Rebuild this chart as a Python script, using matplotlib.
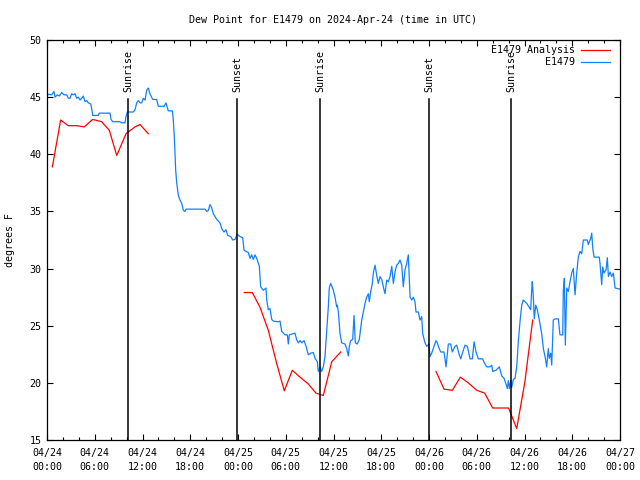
import numpy as np
import pandas as pd
import matplotlib
matplotlib.use("Agg")
import matplotlib.pyplot as plt
import matplotlib.dates as mdates
from matplotlib.transforms import blended_transform_factory

# hours after 2024-04-24 00:00 UTC, dew point in degrees F
analysis_hours = [0.67, 1.72, 2.68, 3.73, 4.69, 5.74, 6.87, 7.83, 8.76, 9.93, 11.06, 11.69, 12.73,
                  np.nan,
                  24.79, 25.80, 26.77, 27.81, 28.86, 29.82, 30.82, 31.79, 32.84, 33.80, 34.72, 35.78, 36.91,
                  np.nan,
                  48.88, 49.89, 50.93, 51.94, 52.94, 54.0, 55.0, 56.0, 57.0, 58.0, 59.02, 60.03, 61.03]
analysis_vals = [38.9, 43.0, 42.5, 42.5, 42.4, 43.05, 42.85, 42.1, 39.9, 41.8, 42.4, 42.6, 41.8,
                 np.nan,
                 27.9, 27.9, 26.6, 24.6, 21.7, 19.3, 21.1, 20.5, 19.9, 19.1, 18.9, 21.85, 22.7,
                 np.nan,
                 21.0, 19.45, 19.35, 20.5, 20.0, 19.35, 19.1, 17.8, 17.8, 17.8, 16.0, 20.0, 25.5]

obs_hours = [0.0, 0.16, 0.59, 0.88, 1.01, 1.29, 1.55, 1.85, 2.14, 2.48, 2.68, 2.89, 3.10, 3.30, 3.52,
             3.73, 3.93, 4.15, 4.36, 4.56, 4.78, 4.99, 5.19, 5.49, 5.62, 5.74, 6.45, 6.57, 7.92, 8.04,
             8.26, 9.17, 9.39, 9.80, 9.93, 10.09, 10.84, 11.06, 11.27, 11.47, 11.69, 11.90, 12.10, 12.32,
             12.53, 12.73, 12.94, 13.28, 13.78, 13.99, 14.70, 14.95, 15.24, 15.75, 15.87, 16.00, 16.17,
             16.30, 16.50, 16.71, 16.93, 17.13, 17.34, 17.47, 19.85, 20.07, 20.27, 20.48, 20.70, 20.90,
             21.33, 21.74, 21.95, 22.24, 22.49, 22.71, 23.08, 23.34, 23.62, 23.91, 24.25, 24.59, 24.76,
             25.30, 25.51, 25.72, 25.92, 26.14, 26.35, 26.68, 26.85, 27.18, 27.52, 27.61, 27.81, 28.02,
             28.24, 28.44, 29.07, 29.28, 29.49, 29.91, 30.20, 30.32, 30.45, 31.16, 31.38, 31.58, 31.79,
             32.01, 32.30, 32.55, 32.84, 33.14, 33.46, 33.68, 33.97, 34.09, 34.31, 34.52, 34.72, 34.93,
             35.15, 35.35, 35.47, 35.65, 35.98, 36.19, 36.40, 36.48, 36.61, 36.82, 37.03, 37.45, 37.66,
             37.86, 37.99, 38.16, 38.41, 38.58, 38.74, 38.99, 39.24, 39.55, 39.75, 39.96, 40.17, 40.38,
             40.50, 40.68, 40.88, 41.00, 41.22, 41.43, 41.63, 41.84, 42.06, 42.26, 42.47, 42.69, 42.89,
             43.10, 43.32, 43.52, 43.73, 43.94, 44.15, 44.36, 44.57, 44.77, 44.99, 45.20, 45.40, 45.62,
             45.83, 46.03, 46.24, 46.37, 46.66, 46.87, 47.08, 47.21, 47.50, 47.71, 48.00, 48.13, 48.34,
             48.54, 48.88, 49.05, 49.17, 49.47, 49.89, 50.14, 50.43, 50.73, 50.93, 51.27, 51.48, 51.81,
             51.99, 52.24, 52.53, 52.82, 53.16, 53.45, 53.66, 53.91, 54.20, 54.75, 54.91, 55.25, 55.67,
             55.88, 56.01, 56.42, 56.84, 57.14, 57.43, 57.68, 57.84, 57.97, 58.10, 58.27, 58.39, 58.60,
             58.81, 59.02, 59.22, 59.44, 59.65, 59.85, 60.07, 60.28, 60.61, 60.78, 60.90, 60.98, 61.11,
             61.23, 61.41, 61.61, 61.86, 62.16, 62.37, 62.58, 62.79, 62.99, 63.12, 63.30, 63.42, 63.62,
             63.84, 64.25, 64.46, 64.80, 64.88, 65.01, 65.13, 65.31, 65.51, 65.72, 65.93, 66.14, 66.35,
             66.56, 66.76, 66.98, 67.19, 67.39, 67.89, 68.02, 68.32, 68.45, 68.57, 68.74, 69.40, 69.49,
             69.70, 69.83, 69.99, 70.25, 70.41, 70.54, 70.75, 70.96, 71.17, 71.38, 72.0]
obs_vals = [45.1, 45.25, 45.2, 45.5, 45.0, 45.2, 45.1, 45.4, 45.2, 45.2, 44.9, 44.9, 45.3, 45.2, 45.3,
            44.9, 45.0, 44.75, 44.9, 45.1, 44.6, 44.7, 44.5, 44.4, 44.0, 43.4, 43.4, 43.6, 43.6, 43.05,
            42.85, 42.85, 42.75, 42.75, 43.3, 43.7, 43.7, 43.9, 44.5, 44.7, 44.5, 44.5, 44.9, 44.75,
            45.6, 45.8, 45.3, 44.8, 44.8, 44.2, 44.2, 44.5, 43.8, 43.8, 43.0, 41.5, 38.6,
            37.5, 36.4, 36.0, 35.7, 35.1, 35.0, 35.2, 35.2, 35.0, 35.1, 35.6, 35.3, 34.8,
            34.3, 34.0, 33.5, 33.2, 33.4, 32.9, 32.8, 32.5, 32.55, 33.0, 32.8, 32.7, 31.6,
            31.4, 30.9, 31.2, 30.8, 31.2, 30.9, 30.2, 28.4, 28.1, 28.3, 27.25, 26.4, 26.5,
            25.55, 25.4, 25.35, 25.4, 24.5, 24.2, 24.2, 23.4, 24.2, 24.35, 23.75, 23.5, 23.7,
            23.5, 23.7, 23.2, 22.45, 22.6, 22.65, 22.15, 21.85, 21.0, 21.4, 21.0, 21.4, 22.3,
            24.6, 26.65, 28.3, 28.7, 28.1, 27.5, 26.65, 26.8, 26.2, 24.3, 23.5, 23.4, 23.0,
            22.35, 23.2, 23.7, 23.8, 25.9, 23.5, 23.4, 23.8, 25.5, 26.2, 26.95, 27.5, 27.8,
            27.1, 28.0, 28.7, 29.6, 30.3, 29.4, 28.7, 29.3, 29.05, 28.4, 27.8, 29.0, 28.85,
            29.3, 30.2, 28.7, 29.7, 30.3, 30.45, 30.75, 30.3, 28.4, 29.9, 30.45, 31.2, 27.5,
            27.25, 27.5, 27.1, 26.2, 26.2, 25.5, 25.8, 24.3, 23.5, 23.2, 23.4, 22.3, 22.6,
            23.0, 23.7, 23.5, 23.2, 22.7, 22.7, 21.4, 23.4, 23.4, 22.7, 23.2, 23.3, 22.45,
            22.1, 22.7, 23.3, 23.2, 22.1, 22.1, 23.6, 22.7, 22.1, 22.1, 21.8, 21.4, 21.4,
            21.55, 21.0, 21.1, 21.4, 20.6, 20.4, 19.9, 19.5, 20.2, 19.5, 20.2, 19.6, 20.3,
            20.4, 21.4, 23.6, 25.4, 26.8, 27.25, 27.1, 26.95, 26.6, 26.4, 28.1, 28.85, 27.5,
            25.6, 26.8, 26.4, 25.5, 24.3, 23.0, 22.3, 21.4, 23.0, 22.15, 22.6, 21.55, 25.5,
            25.6, 25.6, 24.2, 24.2, 28.1, 29.15, 23.3, 28.3, 28.0, 28.85, 29.6, 30.0, 27.7,
            29.6, 31.0, 31.5, 31.3, 32.5, 32.5, 32.1, 32.65, 33.1, 31.8, 31.0, 31.0, 30.45,
            28.6, 30.15, 29.6, 29.9, 30.95, 29.3, 29.7, 29.3, 29.6, 28.3, 28.2]

sun_hours = [10.2, 23.93, 34.35, 48.03, 58.35]
sun_labels = ["Sunrise", "Sunset", "Sunrise", "Sunset", "Sunrise"]

start = pd.Timestamp("2024-04-24 00:00").to_pydatetime()
t0 = mdates.date2num(start)


def to_num(hours):
    return t0 + np.asarray(hours, dtype=float) / 24.0


plt.rcParams["font.family"] = "DejaVu Sans Mono"
plt.rcParams["font.size"] = 7.2

fig = plt.figure(figsize=(6.4, 4.8), dpi=100)
ax = fig.add_axes([47 / 640, 40 / 480, 573 / 640, 400 / 480])

red = "#ff0000"
blue = "#1080ff"
ax.plot(to_num(analysis_hours), analysis_vals, color=red, lw=0.9)
ax.plot(to_num(obs_hours), obs_vals, color=blue, lw=0.9)

trans = blended_transform_factory(ax.transData, ax.transAxes)
for h, lab in zip(sun_hours, sun_labels):
    x = to_num(h)
    ax.plot([x, x], [0, 0.852], color="black", lw=1.1, transform=trans)
    ax.text(x, 0.87, lab, rotation=90, ha="center", va="bottom", transform=trans)

ax.set_xlim(t0, t0 + 3)
ax.set_ylim(15, 50)
ax.set_yticks(np.arange(15, 51, 5))
ax.xaxis.set_major_locator(mdates.HourLocator(byhour=range(0, 24, 6)))
ax.xaxis.set_minor_locator(mdates.HourLocator(byhour=range(0, 24, 2)))
ax.xaxis.set_major_formatter(mdates.DateFormatter("%m/%d\n%H:%M"))
for lbl in ax.get_xticklabels():
    lbl.set_linespacing(1.45)
ax.tick_params(which="both", direction="in", top=True, right=True, color="black")
ax.tick_params(which="major", length=4, width=0.8)
ax.tick_params(which="minor", length=2, width=0.8)
ax.tick_params(axis="x", which="major", pad=6)
ax.tick_params(axis="y", which="major", pad=4)
for sp in ax.spines.values():
    sp.set_linewidth(0.9)

# legend drawn like gnuplot: right-aligned text, sample line on the right
for yy, lab, col in [(0.975, "E1479 Analysis", red), (0.945, "E1479", blue)]:
    ax.text(0.9215, yy, lab, ha="right", va="center", transform=ax.transAxes)
    ax.plot([0.932, 0.9825], [yy, yy], color=col, lw=0.9, transform=ax.transAxes)

fig.text(333 / 640, 1 - 20 / 480, "Dew Point for E1479 on 2024-Apr-24 (time in UTC)",
         ha="center", va="center")
fig.text(10 / 640, 0.5, "degrees F", rotation=90, ha="center", va="center")

fig.savefig("out.png", dpi=100)
